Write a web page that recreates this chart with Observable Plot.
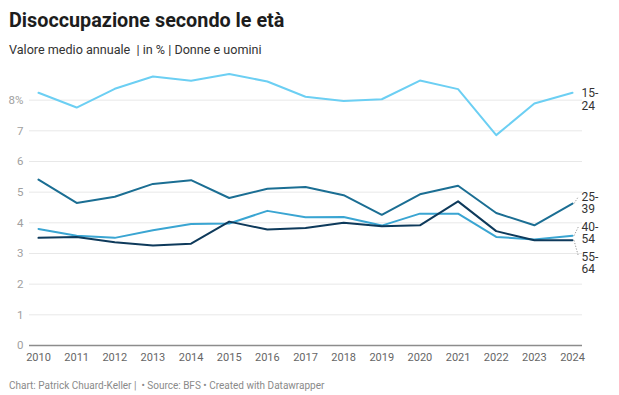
<!DOCTYPE html>
<html>
<head>
<meta charset="utf-8">
<script src="https://cdn.jsdelivr.net/npm/d3@7"></script>
<script src="https://cdn.jsdelivr.net/npm/@observablehq/plot@0.6"></script>
<style>
  html, body { margin: 0; padding: 0; background: #fff; }
  body { width: 619px; height: 395px; overflow: hidden; font-family: Roboto, "Noto Sans", sans-serif; position: relative; }
  #title { position: absolute; left: 9px; top: 9px; font-size: 19.8px; font-weight: 700; color: #1d1d1d; }
  #subtitle { position: absolute; left: 9px; top: 42px; font-size: 12.6px; color: #333; }
  #chart { position: absolute; left: 0; top: 68px; }
  #footer { position: absolute; left: 9px; top: 380px; font-size: 10px; color: #8a8a8a; }
</style>
</head>
<body>
<div id="title">Disoccupazione secondo le età</div>
<div id="subtitle">Valore medio annuale&nbsp; | in % | Donne e uomini</div>
<div id="chart"></div>
<div id="footer">Chart: Patrick Chuard-Keller | &nbsp;• Source: BFS • Created with Datawrapper</div>
<script>
const years = [2010, 2011, 2012, 2013, 2014, 2015, 2016, 2017, 2018, 2019, 2020, 2021, 2022, 2023, 2024];
const groups = ["15-24", "25-39", "40-54", "55-64"];
const v15_24 = [8.24, 7.76, 8.37, 8.77, 8.63, 8.85, 8.61, 8.11, 7.97, 8.03, 8.64, 8.36, 6.86, 7.89, 8.24];
const v25_39 = [5.41, 4.65, 4.85, 5.27, 5.39, 4.81, 5.11, 5.17, 4.90, 4.26, 4.93, 5.21, 4.32, 3.92, 4.63];
const v40_54 = [3.80, 3.58, 3.51, 3.76, 3.96, 3.98, 4.39, 4.18, 4.19, 3.91, 4.30, 4.30, 3.54, 3.46, 3.58];
const v55_64 = [3.51, 3.54, 3.37, 3.26, 3.32, 4.04, 3.78, 3.83, 4.00, 3.89, 3.92, 4.70, 3.73, 3.43, 3.43];
const colors = ["#6ccff3", "#1b6e93", "#3aa5d2", "#0e3a5b"];
const yTicks = [0, 1, 2, 3, 4, 5, 6, 7, 8];

const seriesVals = [v15_24, v25_39, v40_54, v55_64];
const data = [];
groups.forEach((g, gi) => years.forEach((yr, i) => data.push({group: g, year: yr, value: seriesVals[gi][i]})));

const W = 619, H = 300, mT = 1, mB = 23, mL = 38, mR = 47;
const yDomain = [0, 9];
const pxPerUnit = (H - mT - mB) / (yDomain[1] - yDomain[0]);
const pxPerYear = (W - mL - mR) / (years[years.length - 1] - years[0]);

// label placement: first line anchored at the last value, overlapping labels pushed apart as a cluster
const lastYear = years[years.length - 1];
const spacingPx = 30;
let labels = groups.map((g, gi) => ({group: g, color: colors[gi], value: seriesVals[gi][seriesVals[gi].length - 1]}));
labels.forEach(l => l.px = (yDomain[1] - l.value) * pxPerUnit);
labels.sort((a, b) => a.px - b.px);
let clusters = labels.map(l => ({items: [l], mean: l.px}));
let changed = true;
while (changed) {
  changed = false;
  for (let i = 0; i < clusters.length - 1; i++) {
    const a = clusters[i], b = clusters[i + 1];
    const aEnd = a.mean + (a.items.length - 1) * spacingPx / 2;
    const bStart = b.mean - (b.items.length - 1) * spacingPx / 2;
    if (bStart - aEnd < spacingPx) {
      const items = a.items.concat(b.items);
      clusters.splice(i, 2, {items, mean: d3.mean(items, d => d.px)});
      changed = true;
      break;
    }
  }
}
clusters.forEach(c => c.items.forEach((l, i) => {
  l.labelPx = c.mean + (i - (c.items.length - 1) / 2) * spacingPx;
  l.labelValue = yDomain[1] - l.labelPx / pxPerUnit;
  l.moved = Math.abs(l.labelPx - l.px) > 1;
}));

const textDx = 9;
const leaderGap = 6 / pxPerYear;
const leaders = labels.filter(l => l.moved).map(l => ({x1: lastYear + 1.5 / pxPerYear, y1: l.value, x2: lastYear + leaderGap, y2: l.labelValue}));

const chart = Plot.plot({
  width: W, height: H,
  marginTop: mT, marginBottom: mB, marginLeft: mL, marginRight: mR,
  style: {fontFamily: "Roboto, sans-serif", background: "transparent"},
  x: {domain: [years[0], lastYear], label: null},
  y: {domain: yDomain, label: null},
  marks: [
    Plot.ruleY(yTicks.filter(t => t > 0), {stroke: "#e8e8e8", strokeWidth: 1, insetLeft: -9, insetRight: -10}),
    Plot.axisY(yTicks, {tickSize: 0, tickPadding: 15, tickFormat: d => d === 8 ? "8%" : String(d), fill: "#a0a0a0", fontSize: 11.5}),
    Plot.axisX(years, {tickSize: 0, tickPadding: 8, tickFormat: d => String(d), fill: "#666", fontSize: 11}),
    Plot.ruleY([0], {stroke: "#8c8c8c", strokeWidth: 1.6, insetLeft: -9, insetRight: -10}),
    Plot.line(data, {x: "year", y: "value", z: "group", stroke: d => colors[groups.indexOf(d.group)], strokeWidth: 2, curve: "linear"}),
    Plot.link(leaders, {x1: "x1", y1: "y1", x2: "x2", y2: "y2", stroke: "#999", strokeWidth: 1, strokeDasharray: "1.2,1.6"}),
    Plot.text(labels, {x: () => lastYear, y: "labelValue", text: d => d.group.replace("-", "-\n"), textAnchor: "start", lineAnchor: "top", dy: -5, dx: textDx, fill: "#333", fontSize: 12, lineHeight: 1.07})
  ]
});
document.getElementById("chart").appendChild(chart);
</script>
</body>
</html>
